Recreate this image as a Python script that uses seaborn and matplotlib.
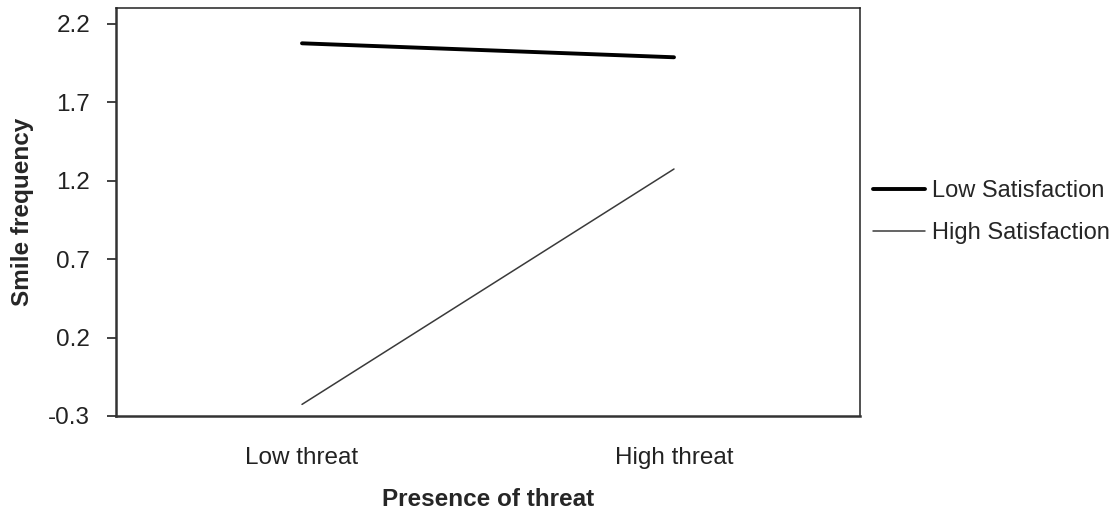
import matplotlib
matplotlib.use("Agg")
import matplotlib.pyplot as plt
import seaborn as sns
import pandas as pd

# Dados
threat_levels = ["Low threat", "High threat"]
low_satisfaction = [2.075, 1.986]
high_satisfaction = [-0.226, 1.274]
y_ticks = [-0.3, 0.2, 0.7, 1.2, 1.7, 2.2]

sns.set_theme(style="white")
plt.rcParams['font.family'] = ['Liberation Sans', 'DejaVu Sans']

df = pd.DataFrame({
    "x": list(range(len(threat_levels))) * 2,
    "smile": low_satisfaction + high_satisfaction,
    "group": ["Low Satisfaction"] * 2 + ["High Satisfaction"] * 2,
})

fig = plt.figure(figsize=(11.2, 5.11), dpi=100)
# caixa do gráfico: x 116..860 px, y 8..416 px
ax = fig.add_axes([116 / 1120, 1 - 416 / 511, 744 / 1120, 408 / 511])

sns.lineplot(data=df, x="x", y="smile", hue="group", size="group",
             hue_order=["Low Satisfaction", "High Satisfaction"],
             palette={"Low Satisfaction": "black", "High Satisfaction": "#3a3a3a"},
             sizes={"Low Satisfaction": 2.8, "High Satisfaction": 1.1},
             ax=ax)

ax.set_xlim(-0.5, 1.5)
ax.set_ylim(-0.3, 2.3)
ax.set_xticks(range(len(threat_levels)))
ax.set_xticklabels(threat_levels, fontsize=17.5, color="#222222")
ax.set_yticks(y_ticks)
ax.set_yticklabels([f"{v:.1f}" for v in y_ticks], fontsize=17.5, color="#222222")
ax.tick_params(axis="y", direction="out", length=6.5, width=1.3, color="#333333",
               left=True, pad=12)
ax.tick_params(axis="x", length=0, pad=22)

for side in ["left", "bottom"]:
    ax.spines[side].set_linewidth(1.8)
    ax.spines[side].set_color("#333333")
for side in ["top", "right"]:
    ax.spines[side].set_linewidth(1.1)
    ax.spines[side].set_color("#222222")

ax.set_xlabel("Presence of threat", fontsize=17.5, weight="bold", labelpad=14)
ax.set_ylabel("Smile frequency", fontsize=17.5, weight="bold", labelpad=10)

leg = ax.legend(loc="center left", bbox_to_anchor=(1.017, 0.5), frameon=False,
                fontsize=17, handlelength=2.2, handletextpad=0.3, labelspacing=0.85,
                borderaxespad=0, borderpad=0)

fig.savefig("out.png", dpi=100, facecolor="white")
